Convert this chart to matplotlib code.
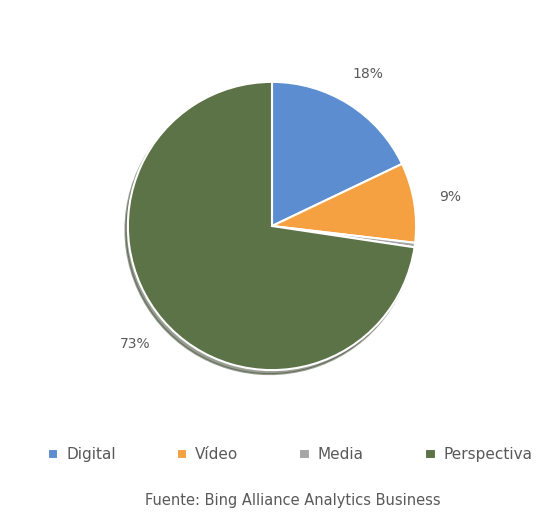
import matplotlib.pyplot as plt

# share of spend by channel
categorias = ['Digital', 'Vídeo', 'Media', 'Perspectiva']
valores = [18, 9, 0.5, 73]
colores = ['#5b8dd0', '#f5a141', '#a5a5a5', '#5c7347']
fuente = 'Fuente: Bing Alliance Analytics Business'

fig = plt.figure(figsize=(5.42, 5.26), dpi=100)
fig.patch.set_facecolor('white')

# pie axes, centred a little above the middle
r = 147
cx, cy = 272, 226
ax = fig.add_axes([(cx - r)/542, (526 - cy - r)/526, 2*r/542, 2*r/526])

def etiqueta(pct):
    return '%d%%' % round(pct) if pct >= 1 else ''

wedges, textos, pcts = ax.pie(valores, colors=colores, startangle=90, counterclock=False,
                              autopct=etiqueta, pctdistance=1.25, radius=1,
                              wedgeprops=dict(edgecolor='white', linewidth=1.5),
                              shadow=dict(ox=-0.012, oy=-0.02, shade=0.45),
                              textprops=dict(color='#595959', fontsize=10))
ax.set_xlim(-1.02, 1.02)
ax.set_ylim(-1.02, 1.02)
ax.set_aspect('equal')
ax.axis('off')

leg = fig.legend(wedges, categorias, loc='center', bbox_to_anchor=(0.535, 0.135),
                 ncol=4, frameon=False, fontsize=11, handlelength=0.7, handleheight=0.7,
                 columnspacing=4.0, handletextpad=0.5)
for t in leg.get_texts():
    t.set_color('#595959')

fig.text(0.54, 0.048, fuente, ha='center', va='center', fontsize=10.5, color='#595959')

fig.savefig('out.png', dpi=100)
